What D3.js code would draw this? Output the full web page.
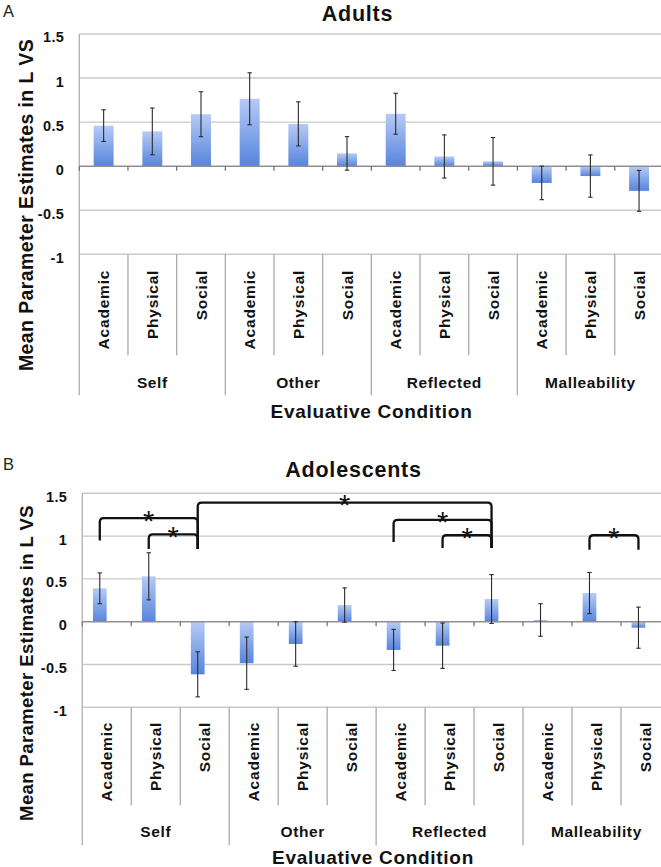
<!DOCTYPE html>
<html><head><meta charset="utf-8">
<script src="https://cdn.jsdelivr.net/npm/d3@7"></script>
<style>
body{margin:0;background:#fff}
svg{display:block}
text{font-family:"Liberation Sans",Arial,Helvetica,sans-serif}
</style>
</head><body>
<svg id="chart" width="661" height="867"></svg>
<script>
// ---------- data ----------
const subCategories = ["Academic", "Physical", "Social"];
const groups = ["Self", "Other", "Reflected", "Malleability"];
const conditions = groups.flatMap(g => subCategories.map(s => g + "|" + s));

const adultMeans = [0.46, 0.395, 0.59, 0.765, 0.48, 0.145, 0.595, 0.11, 0.055, -0.19, -0.112, -0.28];
const adultSE    = [0.18, 0.265, 0.255, 0.295, 0.25, 0.19, 0.232, 0.245, 0.27, 0.19, 0.24, 0.232];

const adolMeans = [0.39, 0.53, -0.615, -0.485, -0.26, 0.195, -0.33, -0.28, 0.265, 0.02, 0.335, -0.07];
const adolSE    = [0.18, 0.275, 0.263, 0.305, 0.26, 0.2, 0.24, 0.265, 0.285, 0.19, 0.24, 0.24];

const yTickValues = [-1, -0.5, 0, 0.5, 1, 1.5];

// significance brackets (adolescents): category indices and heights in data units
const adolBrackets = [
  {from: 0, to: 2,  level: 1.21, leftEnd: 0.95, rightEnd: 0.85},
  {from: 1, to: 2,  level: 1.02, leftEnd: 0.85, rightEnd: 0.85},
  {from: 2, to: 8,  level: 1.39, leftEnd: 0.85, rightEnd: 0.86},
  {from: 6, to: 8,  level: 1.19, leftEnd: 0.93, rightEnd: 0.86},
  {from: 7, to: 8,  level: 1.01, leftEnd: 0.86, rightEnd: 0.86},
  {from: 10, to: 11, level: 1.01, leftEnd: 0.84, rightEnd: 0.84}
];

// ---------- drawing ----------
const svg = d3.select("#chart");
const FONT = '"Liberation Sans",Arial,Helvetica,sans-serif';

const defs = svg.append("defs");
const grad = defs.append("linearGradient").attr("id", "barGrad")
  .attr("x1", 0).attr("y1", 0).attr("x2", 0).attr("y2", 1);
grad.append("stop").attr("offset", "0%").attr("stop-color", "#b6cbf6");
grad.append("stop").attr("offset", "100%").attr("stop-color", "#5784dc");

function drawPanel(cfg) {
  const g = svg.append("g");
  const x = d3.scaleBand().domain(conditions).range([cfg.x0, cfg.x1]).paddingInner(0).paddingOuter(0);
  const y = d3.scaleLinear().domain([-1, 1.5]).range([cfg.yBot, cfg.yTop]);
  const bw = x.bandwidth();
  const barW = bw * cfg.barFrac;
  const cx = c => x(c) + bw * (0.5 + cfg.offsetFrac);

  // gridlines
  g.append("g").selectAll("line").data(yTickValues.filter(v => v !== 0)).join("line")
    .attr("x1", cfg.x0).attr("x2", 661)
    .attr("y1", d => y(d)).attr("y2", d => y(d))
    .attr("stroke", "#c9c9c9").attr("stroke-width", 1.4);

  // y axis (labels)
  const yAxis = d3.axisLeft(y).tickValues(yTickValues).tickSize(0).tickPadding(15)
    .tickFormat(d => String(d));
  const ya = g.append("g").attr("transform", `translate(${cfg.x0},0)`).call(yAxis);
  ya.select(".domain").remove();
  ya.selectAll("text").attr("font-family", FONT).attr("font-size", 14.5).attr("font-weight", "bold")
    .attr("fill", "#111").attr("dy", "0.55em").attr("letter-spacing", 0.4);

  // vertical axis line
  g.append("line").attr("x1", cfg.x0).attr("x2", cfg.x0)
    .attr("y1", cfg.yTop).attr("y2", cfg.yBot + cfg.groupSepLen)
    .attr("stroke", "#b5b5b5").attr("stroke-width", 1.4);

  // bars
  const means = cfg.means, se = cfg.se;
  g.append("g").selectAll("rect").data(conditions).join("rect")
    .attr("x", (c) => cx(c) - barW / 2)
    .attr("width", barW)
    .attr("y", (c, i) => y(Math.max(0, means[i])))
    .attr("height", (c, i) => Math.abs(y(means[i]) - y(0)))
    .attr("fill", "url(#barGrad)");

  // zero line and ticks
  g.append("line").attr("x1", cfg.x0).attr("x2", 661).attr("y1", y(0)).attr("y2", y(0))
    .attr("stroke", "#8f8f8f").attr("stroke-width", 1.5);
  const bounds = d3.range(0, conditions.length + 1).map(k => cfg.x0 + k * bw);
  g.append("g").selectAll("line").data(bounds).join("line")
    .attr("x1", d => d).attr("x2", d => d).attr("y1", y(0)).attr("y2", y(0) + 4.5)
    .attr("stroke", "#777").attr("stroke-width", 1.3);

  // error bars
  const eb = g.append("g").attr("stroke", "#2a2a2a").attr("stroke-width", 1.1);
  conditions.forEach((c, i) => {
    const xc = cx(c), lo = y(means[i] - se[i]), hi = y(means[i] + se[i]);
    eb.append("line").attr("x1", xc).attr("x2", xc).attr("y1", hi).attr("y2", lo);
    eb.append("line").attr("x1", xc - 2.2).attr("x2", xc + 2.2).attr("y1", hi).attr("y2", hi);
    eb.append("line").attr("x1", xc - 2.2).attr("x2", xc + 2.2).attr("y1", lo).attr("y2", lo);
  });

  // category separators below the plot
  g.append("g").selectAll("line").data(d3.range(1, conditions.length + 1)).join("line")
    .attr("x1", k => cfg.x0 + k * bw).attr("x2", k => cfg.x0 + k * bw)
    .attr("y1", cfg.yBot)
    .attr("y2", k => cfg.yBot + (k % 3 === 0 ? cfg.groupSepLen : cfg.innerSepLen))
    .attr("stroke", "#aaaaaa").attr("stroke-width", 1.3);

  // category labels (rotated)
  g.append("g").selectAll("text").data(conditions).join("text")
    .attr("transform", c => `translate(${x(c) + bw / 2},${cfg.yBot + cfg.catGap}) rotate(-90)`)
    .attr("text-anchor", "end").attr("dy", "0.36em")
    .attr("font-size", 15.5).attr("font-weight", "bold").attr("letter-spacing", 0.8).attr("fill", "#111")
    .text(c => c.split("|")[1]);

  // group labels
  g.append("g").selectAll("text").data(groups).join("text")
    .attr("x", (gname, gi) => cfg.x0 + (gi * 3 + 1.5) * bw)
    .attr("y", cfg.yBot + cfg.groupLabelOff)
    .attr("text-anchor", "middle").attr("font-size", 15.5).attr("font-weight", "bold")
    .attr("letter-spacing", 0.6).attr("fill", "#111")
    .text(d => d);

  // x axis title
  g.append("text").attr("x", cfg.xTitleX).attr("y", cfg.xTitleY).attr("text-anchor", "middle")
    .attr("font-size", 19).attr("font-weight", "bold").attr("letter-spacing", 0.7).attr("fill", "#111")
    .text("Evaluative Condition");

  // y axis title
  g.append("text").attr("transform", `translate(${cfg.yTitleX},${cfg.yTitleY}) rotate(-90)`)
    .attr("text-anchor", "middle").attr("font-size", cfg.yTitleSize).attr("font-weight", "bold")
    .attr("letter-spacing", 0.4).attr("fill", "#111")
    .text("Mean Parameter Estimates in L VS");

  // chart title
  g.append("text").attr("x", cfg.titleX).attr("y", cfg.titleY).attr("text-anchor", "middle")
    .attr("font-size", 21.5).attr("font-weight", "bold").attr("letter-spacing", 0.8).attr("fill", "#111")
    .text(cfg.title);

  // panel letter
  g.append("text").attr("x", 3).attr("y", cfg.letterY)
    .attr("font-size", 16.5).attr("fill", "#222").text(cfg.letter);

  // significance brackets
  if (cfg.brackets) {
    const bg = g.append("g");
    const r = 4;
    cfg.brackets.forEach(b => {
      const xa = cx(conditions[b.from]), xb = cx(conditions[b.to]);
      const yl = y(b.level), ya1 = y(b.leftEnd), yb1 = y(b.rightEnd);
      const p = d3.path();
      p.moveTo(xa, ya1);
      p.lineTo(xa, yl + r);
      p.quadraticCurveTo(xa, yl, xa + r, yl);
      p.lineTo(xb - r, yl);
      p.quadraticCurveTo(xb, yl, xb, yl + r);
      p.lineTo(xb, yb1);
      bg.append("path").attr("d", p.toString()).attr("fill", "none")
        .attr("stroke", "#111").attr("stroke-width", 2.3);
      bg.append("text").attr("x", (xa + xb) / 2).attr("y", yl + 12.5)
        .attr("text-anchor", "middle").attr("font-size", 29).attr("fill", "#111").text("*");
    });
  }
}

drawPanel({
  title: "Adults", letter: "A", letterY: 17,
  x0: 79.3, x1: 663.4, yTop: 34, yBot: 254.3,
  barFrac: 0.41, offsetFrac: 0,
  means: adultMeans, se: adultSE,
  innerSepLen: 101, groupSepLen: 141, catGap: 15.5, groupLabelOff: 134,
  xTitleX: 371.5, xTitleY: 417.7,
  yTitleX: 33, yTitleY: 205, yTitleSize: 19.5,
  titleX: 357.5, titleY: 20.7
});

drawPanel({
  title: "Adolescents", letter: "B", letterY: 470,
  x0: 82.3, x1: 82.3 + 12 * 48.97, yTop: 493.3, yBot: 707.3,
  barFrac: 0.28, offsetFrac: -0.143,
  means: adolMeans, se: adolSE,
  innerSepLen: 98, groupSepLen: 138, catGap: 14.5, groupLabelOff: 130,
  xTitleX: 373, xTitleY: 863.5,
  yTitleX: 33, yTitleY: 663, yTitleSize: 18.5,
  titleX: 353.5, titleY: 477.3,
  brackets: adolBrackets
});
</script>
</body></html>
